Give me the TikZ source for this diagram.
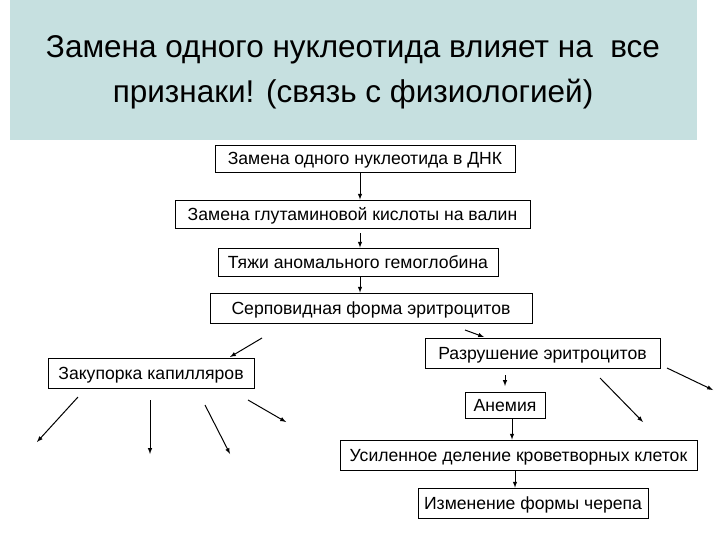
\documentclass[tikz,border=0pt]{standalone}
\usepackage{fontspec}
\setmainfont{Liberation Sans}
\begin{document}
\begin{tikzpicture}[x=1pt,y=-1pt,
 bx/.style={draw,line width=0.8pt,inner sep=0pt,text height=12.6pt,text depth=0pt,font=\fontsize{17.6}{19}\selectfont},
 ar/.style={-latex,line width=1pt}]
\useasboundingbox (0,0) rectangle (720,540);
\fill[fill={rgb,255:red,198;green,224;blue,224}] (10,0) rectangle (697,140);
\node[align=center,font=\fontsize{31.5}{45}\selectfont] (title) at (353,72) {Замена одного нуклеотида влияет на\ \ все\\признаки! (связь с физиологией)};
\newcommand\bxn[6]{\node[bx,minimum width=#3-#2,minimum height=#5-#4] (#1) at ({(#2+#3)/2},{(#4+#5)/2}) {#6};}
\bxn{b1}{215}{515}{145}{172}{Замена одного нуклеотида в ДНК}
\bxn{b2}{175}{530}{200}{228}{Замена глутаминовой кислоты на валин}
\bxn{b3}{218}{498}{248}{276}{Тяжи аномального гемоглобина}
\bxn{b4}{210}{532}{293}{323}{Серповидная форма эритроцитов}
\bxn{zak}{48}{254}{358}{388}{Закупорка капилляров}
\bxn{raz}{425}{660}{338}{368}{Разрушение эритроцитов}
\bxn{an}{465}{545}{392}{418}{Анемия}
\bxn{us}{340}{697}{440}{470}{Усиленное деление кроветворных клеток}
\bxn{iz}{418}{648}{488}{518}{Изменение формы черепа}
\draw[ar] (b1.south-|360,0) -- (b2.north-|360,0);
\draw[ar] (360,233) -- (b3.north-|360,0);
\draw[ar] (b3.south-|360,0) -- (b4.north-|360,0);
\draw[ar] (262,338) -- (230,357);
\draw[ar] (465,330) -- (484,337);
\draw[ar] (505,375) -- (505,386);
\draw[ar] (an.south-|512,0) -- (us.north-|512,0);
\draw[ar] (us.south-|515,0) -- (iz.north-|515,0);
\draw[ar] (667,368) -- (713,390);
\draw[ar] (600,378) -- (643,422);
\coordinate (z1) at (37,442);
\coordinate (z2) at (150,454);
\coordinate (z3) at (230,454);
\coordinate (z4) at (286,422);
\draw[ar] (78,397) -- (z1);
\draw[ar] (150,400) -- (z2);
\draw[ar] (205,405) -- (z3);
\draw[ar] (248,400) -- (z4);
\end{tikzpicture}
\end{document}
